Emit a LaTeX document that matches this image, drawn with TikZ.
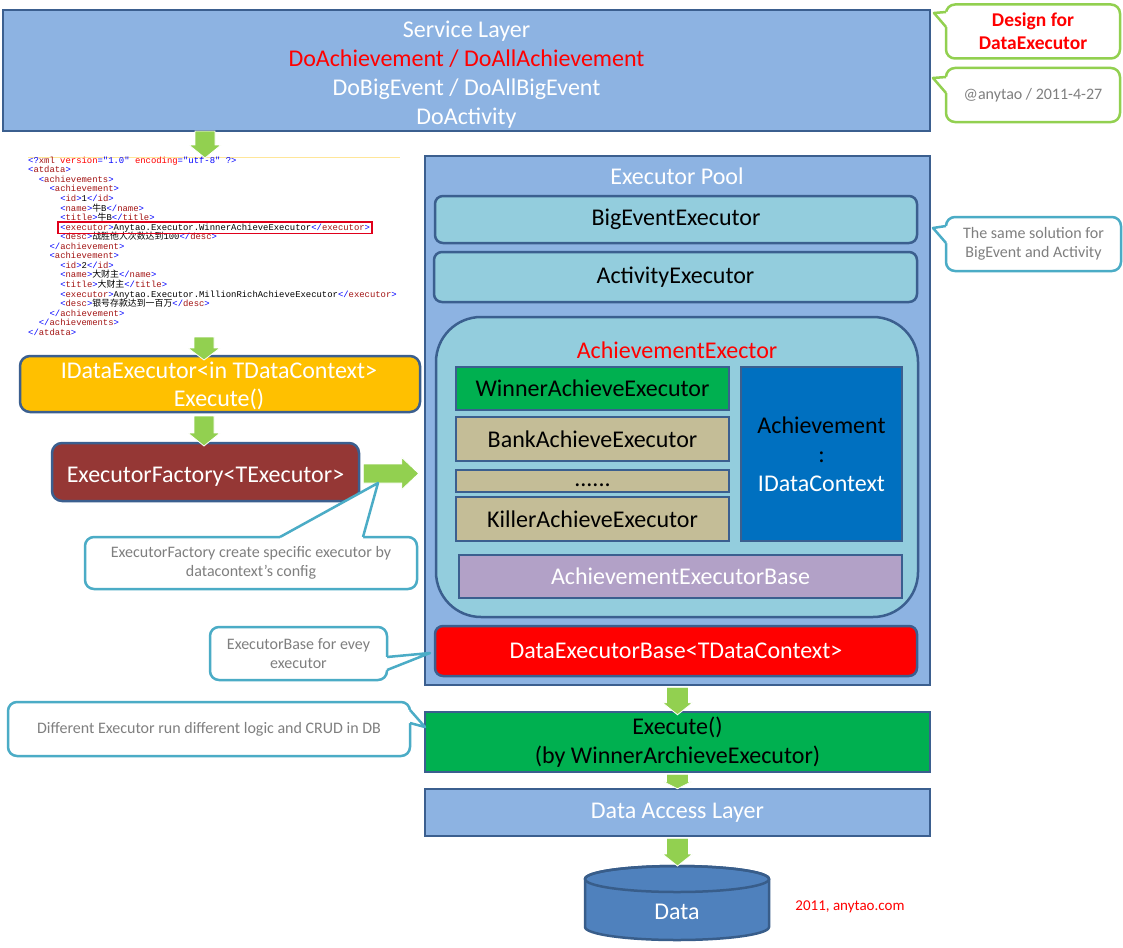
\documentclass[tikz,border=0pt]{standalone}
\usepackage{fontspec}
\setmainfont{Carlito}
\newfontfamily\cjkfont{Noto Sans CJK SC}
\newfontfamily\xmlfont{Liberation Mono}
\usetikzlibrary{calc}
\definecolor{layerblue}{HTML}{8DB3E2}
\definecolor{edgeblue}{HTML}{3B5F8F}
\definecolor{cyanbox}{HTML}{93CDDD}
\definecolor{agreen}{HTML}{92D050}
\definecolor{tealc}{HTML}{4BACC6}
\definecolor{ctext}{HTML}{7F7F7F}
\definecolor{gold}{HTML}{FFC000}
\definecolor{brick}{HTML}{953735}
\definecolor{okgreen}{HTML}{00B050}
\definecolor{khaki}{HTML}{C4BD97}
\definecolor{ctxblue}{HTML}{0070C0}
\definecolor{lilac}{HTML}{B2A1C7}
\definecolor{datablue}{HTML}{4F81BD}
\definecolor{databorder}{HTML}{385D8A}
\definecolor{xmlblue}{HTML}{0000FF}
\definecolor{xmlred}{HTML}{A31515}
\definecolor{xmlattr}{HTML}{FF0000}
\definecolor{xmlline}{HTML}{FFE699}
\definecolor{hilite}{HTML}{E0001B}
\newcommand{\xb}[1]{\textcolor{xmlblue}{#1}}
\newcommand{\xn}[1]{\textcolor{xmlred}{#1}}
\newcommand{\otag}[1]{\xb{<}\xn{#1}\xb{>}}
\newcommand{\ctag}[1]{\xb{</}\xn{#1}\xb{>}}
\newcommand{\blockdown}[5]{%
  \path[garrow] let \p1=#1, \p2=#2 in (\x1-#3,\y1) -- (\x1+#3,\y1) -- (\x1+#3,\y2+#5) -- (\x1+#4,\y2+#5) -- (\x1,\y2) -- (\x1-#4,\y2+#5) -- (\x1-#3,\y2+#5) -- cycle;}
\newcommand{\blockright}[5]{%
  \path[garrow] let \p1=#1, \p2=#2 in (\x1,\y1+#3) -- (\x2-#5,\y1+#3) -- (\x2-#5,\y1+#4) -- (\x2,\y1) -- (\x2-#5,\y1-#4) -- (\x2-#5,\y1-#3) -- (\x1,\y1-#3) -- cycle;}
\newcommand{\callptr}[5]{%
  \fill[white] #2 -- #3 -- #4 -- ($#4+#5$) -- ($#2+#5$) -- cycle;
  \draw[#1, line width=2.5pt, line join=round] #2 -- #3 -- #4;}
\begin{document}
\begin{tikzpicture}[x=1pt,y=-1pt,
  big/.style={font=\fontsize{24}{29}\selectfont},
  layer/.style={draw=edgeblue, fill=layerblue, line width=2.5pt, inner sep=0pt, text=white, big, align=center},
  sharpbox/.style={draw=edgeblue, line width=2.5pt, inner sep=0pt, big, align=center},
  roundbox/.style={sharpbox, rounded corners=8pt},
  label/.style={inner sep=0pt, big, align=center},
  callbox/.style={draw=tealc, fill=white, line width=2.5pt, rounded corners=9pt, inner sep=0pt, align=center, font=\fontsize{16}{19}\selectfont, text=ctext},
  greencall/.style={callbox, draw=agreen},
  garrow/.style={fill=agreen, draw=white, line width=0.8pt},
  xmlrow/.style={anchor=west, inner sep=0pt, text height=6.3pt, text depth=1.8pt, font=\xmlfont\fontsize{8.9}{9.5}\selectfont}
]
\useasboundingbox (0,0) rectangle (1123,947);
\fill[white] (0,0) rectangle (1123,947);

% Service layer
\node[layer, minimum width=927pt, minimum height=121pt] (svc) at (466.5,70.5) {};
\node[label, text=white] (svctext) at (466.5,74.5)
  {Service Layer\\\textcolor{red}{DoAchievement / DoAllAchievement}\\DoBigEvent / DoAllBigEvent\\DoActivity};

% Callouts top right
\node[greencall, minimum width=174pt, minimum height=54pt, text=red, font=\bfseries\fontsize{19.5}{23}\selectfont] (design) at (1033,31.5) {Design for\\DataExecutor};
\callptr{agreen}{(946,12)}{(934,13)}{(946,27)}{(4,0)}
\node[greencall, minimum width=174pt, minimum height=54pt] (author) at (1033,95) {@anytao / 2011-4-27};
\callptr{agreen}{(946,77)}{(933,78)}{(946,93)}{(4,0)}

% XML listing
\draw[xmlline, line width=1pt] (28,157) -- (400,157);
\node[xmlrow] (x1) at (28,161) {\xb{<?}\xn{xml}\ \textcolor{xmlattr}{version}\xb{="1.0"}\ \textcolor{xmlattr}{encoding}\xb{="utf-8"}\ \xb{?>}};
\node[xmlrow] (x2) at (28,170.6) {\otag{atdata}};
\node[xmlrow] (x3) at (38.7,180.1) {\otag{achievements}};
\node[xmlrow] (x4) at (49.4,189.7) {\otag{achievement}};
\node[xmlrow] (x5) at (60.1,199.2) {\otag{id}1\ctag{id}};
\node[xmlrow] (x6) at (60.1,208.8) {\otag{name}{\cjkfont 牛}B\ctag{name}};
\node[xmlrow] (x7) at (60.1,218.3) {\otag{title}{\cjkfont 牛}B\ctag{title}};
\node[xmlrow] (x8) at (60.1,227.9) {\otag{executor}Anytao.Executor.WinnerAchieveExecutor\ctag{executor}};
\node[xmlrow] (x9) at (60.1,237.4) {\otag{desc}{\cjkfont 战胜他人次数达到}100\ctag{desc}};
\node[xmlrow] (x10) at (49.4,247.0) {\ctag{achievement}};
\node[xmlrow] (x11) at (49.4,256.6) {\otag{achievement}};
\node[xmlrow] (x12) at (60.1,266.1) {\otag{id}2\ctag{id}};
\node[xmlrow] (x13) at (60.1,275.7) {\otag{name}{\cjkfont 大财主}\ctag{name}};
\node[xmlrow] (x14) at (60.1,285.2) {\otag{title}{\cjkfont 大财主}\ctag{title}};
\node[xmlrow] (x15) at (60.1,294.8) {\otag{executor}Anytao.Executor.MillionRichAchieveExecutor\ctag{executor}};
\node[xmlrow] (x16) at (60.1,304.3) {\otag{desc}{\cjkfont 银号存款达到一百万}\ctag{desc}};
\node[xmlrow] (x17) at (49.4,313.9) {\ctag{achievement}};
\node[xmlrow] (x18) at (38.7,323.4) {\ctag{achievements}};
\node[xmlrow] (x19) at (28,333) {\ctag{atdata}};
\draw[hilite, line width=1.6pt] ($(x8.south west)+(-2,1.5)$) rectangle ($(x8.north east)+(2,-1.5)$);

% Left column
\node[roundbox, fill=gold, rounded corners=10pt, minimum width=400pt, minimum height=56pt] (idata) at (220,384) {};
\node[label, text=white] (idatatext) at (219,385.5) {IDataExecutor<in TDataContext>\\[-1pt]Execute()};
\node[roundbox, fill=brick, text=white, rounded corners=10pt, minimum width=307pt, minimum height=58pt, text height=20pt, text depth=0pt] (factory) at (205.5,472) {ExecutorFactory<TExecutor>};

% Executor pool
\node[layer, minimum width=505pt, minimum height=529pt] (pool) at (677.5,420.5) {};
\node[label, text=white] (pooltitle) at (677,176) {Executor Pool};
\node[roundbox, fill=cyanbox, minimum width=482pt, minimum height=47pt] (bigevent) at (676,219.5) {BigEventExecutor};
\node[roundbox, fill=cyanbox, minimum width=483pt, minimum height=50pt] (activity) at (675.5,277) {ActivityExecutor};
\node[roundbox, fill=cyanbox, rounded corners=45pt, minimum width=482pt, minimum height=300pt] (achgroup) at (677,467) {};
\node[label, text=red] (achtitle) at (677,350) {AchievementExector};
\node[sharpbox, fill=okgreen, minimum width=273pt, minimum height=43pt] (winner) at (592.5,388.5) {WinnerAchieveExecutor};
\node[sharpbox, fill=khaki, minimum width=273pt, minimum height=44pt] (bank) at (592.5,439) {BankAchieveExecutor};
\node[sharpbox, fill=khaki, minimum width=273pt, minimum height=22pt, text height=10pt, text depth=0pt] (dots) at (592.5,481) {......};
\node[sharpbox, fill=khaki, minimum width=273pt, minimum height=44pt] (killer) at (592.5,519) {KillerAchieveExecutor};
\node[sharpbox, fill=ctxblue, minimum width=161pt, minimum height=174pt] (ctx) at (821.5,454) {Achievement\\:\\\textcolor{white}{IDataContext}};
\node[sharpbox, fill=lilac, text=white, minimum width=443pt, minimum height=43pt] (achbase) at (680.5,576.5) {AchievementExecutorBase};
\node[roundbox, fill=red, text=white, minimum width=482pt, minimum height=50pt] (database) at (676,651) {DataExecutorBase<TDataContext>};

% Lower stack
\node[sharpbox, fill=okgreen, minimum width=505pt, minimum height=60pt] (exec) at (677.5,742) {Execute()\\(by WinnerArchieveExecutor)};
\node[layer, minimum width=505pt, minimum height=47pt] (dal) at (677.5,812.5) {Data Access Layer};

% Data cylinder
\path[fill=datablue, draw=databorder, line width=2.5pt] (585,879) -- (585,927)
  arc[start angle=180, end angle=360, x radius=92pt, y radius=13pt] -- (769,879)
  arc[start angle=0, end angle=180, x radius=92pt, y radius=13pt] -- cycle;
\draw[databorder, line width=2.5pt] (677,879) ellipse[x radius=92pt, y radius=13pt];
\coordinate (datatop) at (677,866);
\node[label, text=white] (data) at (677,912) {Data};
\node[inner sep=0pt, text=red, font=\fontsize{15}{18}\selectfont] (credit) at (850,907) {2011, anytao.com};

% Green block arrows
\coordinate (a1s) at (205,131);
\coordinate (a1e) at (205,158);
\coordinate (a2s) at (204,337);
\coordinate (a2e) at (204,360);
\coordinate (a3s) at (204,416);
\coordinate (a3e) at (204,446);
\blockdown{(a1s)}{(a1e)}{10pt}{16pt}{13pt}
\blockdown{(a2s)}{(a2e)}{10pt}{16pt}{12pt}
\blockdown{(a3s)}{(a3e)}{10pt}{16pt}{13pt}
\blockright{($(factory.east)+(3,1.5)$)}{($(pool.west)+(-5,1.5)$)}{9.5pt}{16pt}{17pt}
\blockdown{($(pool.south)+(0,1)$)}{($(exec.north)+(0,4)$)}{11pt}{15pt}{12pt}
\blockdown{($(exec.south)+(0,1)$)}{($(dal.north)+(0,1)$)}{11pt}{14pt}{7pt}
\blockdown{($(dal.south)+(0,1)$)}{(datatop)}{11pt}{15pt}{12pt}

% Teal callouts
\node[callbox, minimum width=175pt, minimum height=54pt] (samesol) at (1033.5,244) {The same solution for\\BigEvent and Activity};
\callptr{tealc}{(946,226)}{(933,228)}{(946,243)}{(4,0)}
\node[callbox, minimum width=332pt, minimum height=52pt] (factnote) at (251,563) {ExecutorFactory create specific executor by\\datacontext’s config};
\callptr{tealc}{(280,537)}{(378,483)}{(363,537)}{(0,4)}
\node[callbox, minimum width=177pt, minimum height=53pt] (basenote) at (298.5,653.5) {ExecutorBase for evey\\executor};
\callptr{tealc}{(387,657)}{(430,653)}{(387,670)}{(-4,0)}
\node[callbox, minimum width=402pt, minimum height=54pt] (diffnote) at (209,729) {Different Executor run different logic and CRUD in DB};
\callptr{tealc}{(410,710)}{(425,727)}{(410,723)}{(-4,0)}
\end{tikzpicture}
\end{document}
